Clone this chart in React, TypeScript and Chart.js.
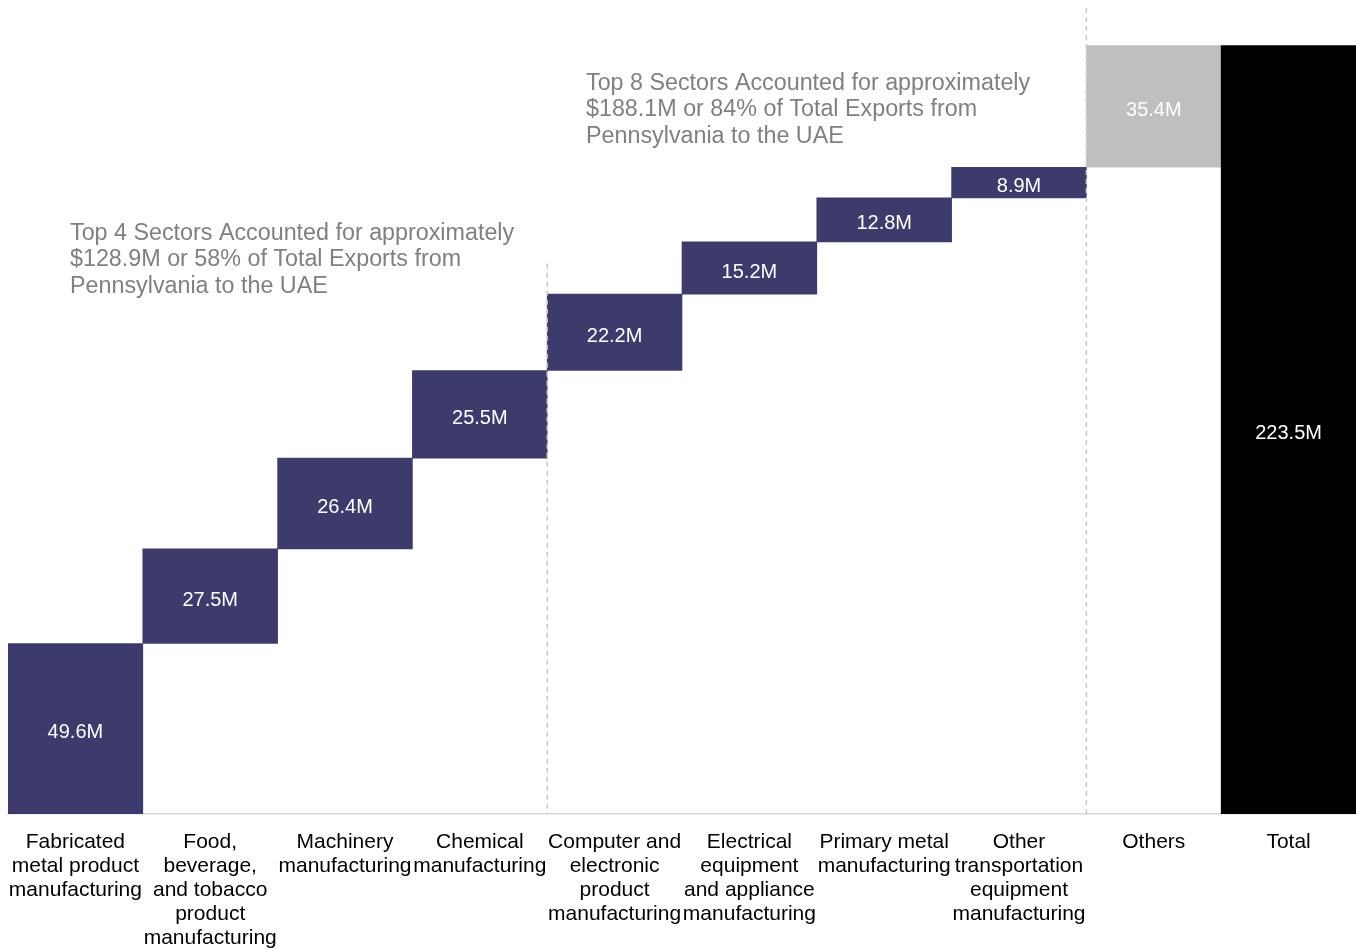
import React, { useEffect, useRef } from "react";
import { Chart, registerables } from "chart.js";

Chart.register(...registerables);

const categories: string[][] = [
  ["Fabricated", "metal product", "manufacturing"],
  ["Food,", "beverage,", "and tobacco", "product", "manufacturing"],
  ["Machinery", "manufacturing"],
  ["Chemical", "manufacturing"],
  ["Computer and", "electronic", "product", "manufacturing"],
  ["Electrical", "equipment", "and appliance", "manufacturing"],
  ["Primary metal", "manufacturing"],
  ["Other", "transportation", "equipment", "manufacturing"],
  ["Others"],
  ["Total"],
];

const sectorValues: number[] = [49.6, 27.5, 26.4, 25.5, 22.2, 15.2, 12.8, 8.9];
const othersValue = 35.4;
const totalValue = 223.5;
const valueLabels: string[] = ["49.6M", "27.5M", "26.4M", "25.5M", "22.2M", "15.2M", "12.8M", "8.9M", "35.4M", "223.5M"];

const note1: string[] = [
  "Top 4 Sectors Accounted for approximately",
  "$128.9M or 58% of Total Exports from",
  "Pennsylvania to the UAE",
];
const note2: string[] = [
  "Top 8 Sectors Accounted for approximately",
  "$188.1M or 84% of Total Exports from",
  "Pennsylvania to the UAE",
];

const NAVY = "#3c3b6b";
const GREY = "#bfbfbf";
const BLACK = "#000000";
const FONT = "'Liberation Sans', Arial, sans-serif";

export default function App() {
  const ref = useRef<HTMLCanvasElement | null>(null);

  useEffect(() => {
    document.body.style.margin = "0";
    const canvas = ref.current;
    if (!canvas) return;

    const floats: [number, number][] = [];
    let cum = 0;
    for (const v of sectorValues) {
      floats.push([cum, cum + v]);
      cum += v;
    }
    floats.push([cum, cum + othersValue]);
    floats.push([0, totalValue]);

    const colors = [...sectorValues.map(() => NAVY), GREY, BLACK];

    const overlay = {
      id: "overlay",
      afterDatasetsDraw(chart: any) {
        const ctx = chart.ctx;
        const meta = chart.getDatasetMeta(0);
        const area = chart.chartArea;
        const y = chart.scales.y;
        ctx.save();
        // value labels
        ctx.fillStyle = "#ffffff";
        ctx.font = `20px ${FONT}`;
        ctx.textAlign = "center";
        ctx.textBaseline = "middle";
        meta.data.forEach((bar: any, i: number) => {
          const cy = (bar.y + bar.base) / 2 + 4;
          ctx.fillText(valueLabels[i], bar.x, cy);
        });
        // dashed separators
        const half = (meta.data[1].x - meta.data[0].x) / 2;
        ctx.strokeStyle = "#c8c8c8";
        ctx.lineWidth = 1.5;
        ctx.setLineDash([5, 4]);
        const x1 = meta.data[3].x + half;
        ctx.beginPath();
        ctx.moveTo(x1, y.getPixelForValue(160));
        ctx.lineTo(x1, area.bottom);
        ctx.stroke();
        const x2 = meta.data[7].x + half;
        ctx.beginPath();
        ctx.moveTo(x2, area.top + 2);
        ctx.lineTo(x2, area.bottom);
        ctx.stroke();
        ctx.setLineDash([]);
        // notes
        ctx.fillStyle = "#808080";
        ctx.font = `23.3px ${FONT}`;
        ctx.textAlign = "left";
        ctx.textBaseline = "middle";
        note1.forEach((t, i) => ctx.fillText(t, 70, 233.5 + i * 26.5));
        note2.forEach((t, i) => ctx.fillText(t, 586, 83.5 + i * 26.5));
        ctx.restore();
      },
    };

    const chart = new Chart(canvas, {
      type: "bar",
      data: {
        labels: categories,
        datasets: [
          {
            data: floats as any,
            backgroundColor: colors,
            borderWidth: 0,
            barPercentage: 1,
            categoryPercentage: 1,
          },
        ],
      },
      options: {
        animation: false,
        responsive: false,
        maintainAspectRatio: false,
        layout: { padding: { left: 8, right: 0, top: 6, bottom: 0 } },
        plugins: { legend: { display: false }, tooltip: { enabled: false } },
        scales: {
          x: {
            grid: { display: false, drawTicks: false },
            border: { display: true, color: "#d9d9d9", width: 1.5 },
            ticks: {
              color: "#000000",
              font: { family: FONT, size: 21, lineHeight: 1.143 },
              padding: 16,
              maxRotation: 0,
              autoSkip: false,
            },
            afterFit(scale: any) {
              scale.height = 135;
              scale.paddingLeft = 0;
              scale.paddingRight = 0;
            },
          },
          y: {
            display: false,
            min: 0,
            max: 235,
          },
        },
      },
      plugins: [overlay],
    });

    return () => chart.destroy();
  }, []);

  return (
    <div style={{ width: 1356, height: 949 }}>
      <canvas ref={ref} width={1356} height={949} style={{ display: "block" }} />
    </div>
  );
}
